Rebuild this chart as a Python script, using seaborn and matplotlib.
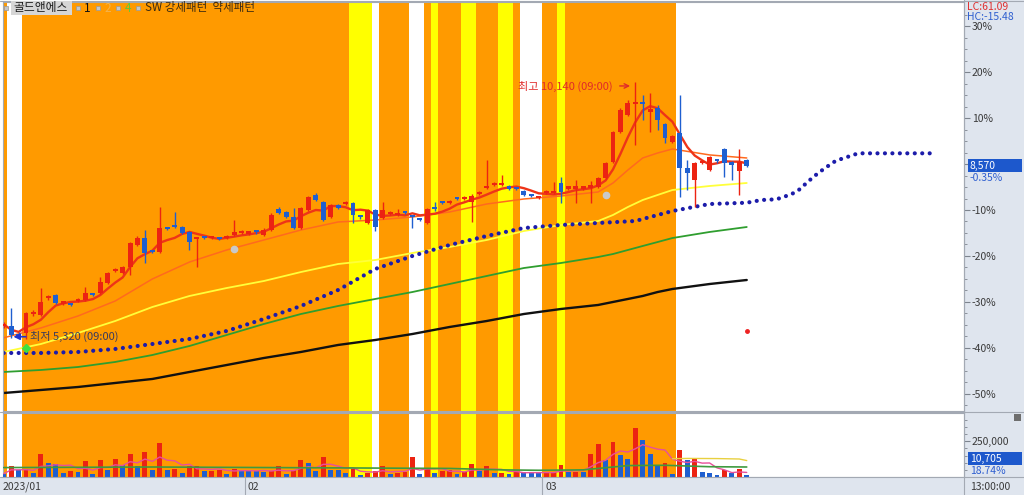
import numpy as np
import pandas as pd
import matplotlib
matplotlib.use("Agg")
import matplotlib.pyplot as plt
from matplotlib.lines import Line2D
from matplotlib.patches import Rectangle
from matplotlib.ticker import FixedLocator, MultipleLocator
import seaborn as sns

# ---- bars (KRW), one per session ----
OPEN = [5570, 5570, 5420, 5440, 5800, 5780, 6090, 6150, 5990, 5980,
        6040, 6060, 6170, 6190, 6380, 6600, 6560, 6670, 7090, 7220,
        6980, 6950, 7400, 7440, 7420, 7330, 7200, 7230, 7210, 7220,
        7220, 7270, 7310, 7300, 7340, 7270, 7370, 7760, 7700, 7610,
        7400, 7740, 8020, 7890, 7610, 7830, 7850, 7870, 7620, 7500,
        7740, 7590, 7670, 7650, 7700, 7630, 7570, 7500, 7770, 7890,
        7870, 7960, 7950, 7890, 8040, 8150, 8210, 8210, 8190, 8150,
        8100, 8020, 7960, 8060, 8060, 8250, 8140, 8140, 8140, 8160,
        8170, 8340, 8640, 9200, 9520, 9720, 9740, 9580, 9650, 9350,
        9010, 9180, 8530, 8300, 8620, 8490, 8660, 8880, 8640, 8470,
        8680]
HIGH = [5640, 5910, 5450, 5830, 5870, 6280, 6150, 6170, 6040, 6000,
        6090, 6300, 6180, 6490, 6580, 6660, 6700, 7140, 7260, 7370,
        7000, 7800, 7420, 7700, 7440, 7350, 7240, 7250, 7260, 7240,
        7280, 7550, 7360, 7350, 7360, 7400, 7680, 7790, 7720, 7780,
        7800, 8000, 8060, 7910, 7850, 7850, 7900, 7890, 7640, 7760,
        7760, 7890, 7720, 7750, 7720, 7650, 7590, 7780, 7890, 7910,
        7920, 7980, 8000, 8030, 8090, 8680, 8260, 8400, 8210, 8170,
        8120, 8040, 8010, 8110, 8260, 8360, 8190, 8300, 8190, 8280,
        8360, 8640, 9220, 9640, 9800, 10140, 9890, 9930, 9700, 9370,
        9140, 9890, 8680, 8640, 8680, 8750, 8700, 8900, 8660, 8880,
        8700]
LOW = [5540, 5350, 5340, 5320, 5760, 5760, 6060, 5980, 5970, 5940,
       6020, 6040, 6130, 6170, 6360, 6580, 6540, 6520, 7060, 6750,
       6930, 6930, 7360, 7400, 7290, 6990, 6670, 7190, 7190, 7170,
       7200, 7250, 7290, 7280, 7300, 7250, 7350, 7660, 7590, 7380,
       7380, 7720, 7910, 7530, 7590, 7760, 7830, 7500, 7580, 7480,
       7350, 7570, 7650, 7630, 7660, 7400, 7530, 7480, 7730, 7850,
       7850, 7920, 7930, 7520, 8020, 8130, 8190, 8190, 8110, 8110,
       8000, 7980, 7940, 8040, 8040, 7870, 8120, 7870, 8120, 7870,
       8150, 8320, 8620, 9180, 9500, 8960, 9420, 9200, 9240, 9000,
       8990, 7980, 8110, 7800, 8600, 8470, 8620, 8360, 8300, 8020,
       8550]
CLOSE = [5600, 5400, 5380, 5810, 5830, 6020, 6110, 6000, 6010, 5960,
         6060, 6190, 6150, 6390, 6560, 6620, 6670, 7120, 7220, 6940,
         6950, 7400, 7380, 7420, 7310, 7140, 7220, 7210, 7230, 7200,
         7240, 7330, 7330, 7320, 7320, 7370, 7650, 7680, 7610, 7400,
         7780, 7980, 7930, 7550, 7830, 7780, 7870, 7650, 7600, 7740,
         7420, 7740, 7690, 7670, 7680, 7610, 7550, 7760, 7750, 7870,
         7890, 7940, 7970, 8000, 8060, 8170, 8230, 8230, 8130, 8130,
         8020, 8000, 7980, 8080, 8080, 8080, 8160, 8160, 8160, 8180,
         8340, 8620, 9200, 9610, 9740, 9740, 9720, 9600, 9420, 9090,
         9120, 8530, 8430, 8620, 8640, 8730, 8650, 8620, 8580, 8640,
         8570]
VOLUME = [23000, 77000, 51000, 55000, 28000, 159000, 98000, 89000, 28000, 42000,
          35000, 112000, 23000, 117000, 47000, 126000, 86000, 159000, 79000, 177000,
          47000, 238000, 47000, 58000, 28000, 75000, 79000, 40000, 44000, 46000,
          23000, 58000, 51000, 42000, 40000, 35000, 42000, 79000, 19000, 47000,
          117000, 98000, 42000, 138000, 51000, 49000, 28000, 58000, 16000, 28000,
          42000, 75000, 19000, 30000, 32000, 140000, 23000, 58000, 28000, 45000,
          48000, 23000, 35000, 93000, 42000, 75000, 28000, 30000, 23000, 35000,
          33000, 31000, 28000, 30000, 32000, 86000, 35000, 37000, 35000, 163000,
          233000, 117000, 245000, 152000, 128000, 345000, 261000, 159000, 82000, 98000,
          23000, 187000, 117000, 124000, 35000, 28000, 16000, 47000, 28000, 58000,
          10705]

# SW pattern state per bar: O = 강세패턴, Y = 약세패턴, W = none (run lengths)
SIGNAL_RUNS = [("O", 1), ("W", 2), ("O", 44), ("Y", 3), ("W", 1), ("O", 4),
               ("W", 2), ("O", 1), ("Y", 1), ("O", 3), ("Y", 2), ("O", 3),
               ("Y", 2), ("O", 1), ("W", 3), ("O", 2), ("Y", 1), ("O", 15),
               ("W", 10)]

# moving averages
LINE_IDX = [0, 5, 10, 15, 20, 25, 30, 35, 40, 45, 50, 55, 60, 65, 70, 75, 80,
            82, 84, 86, 88, 90, 95, 100]
MA_ORANGE = [5350, 5534, 5758, 6038, 6450, 6767, 6992, 7179, 7366, 7516, 7553, 7609,
             7703, 7852, 7946, 8002, 8077, 8245, 8488, 8713, 8806, 8881, 8770, 8713]
MA_YELLOW = [5085, 5234, 5440, 5664, 5926, 6132, 6281, 6412, 6580, 6730, 6805, 6936,
             7048, 7179, 7347, 7460, 7534, 7647, 7796, 7927, 8021, 8114, 8189, 8245]
MA_GREEN = [4711, 4748, 4804, 4898, 5028, 5197, 5402, 5608, 5795, 5945, 6076, 6206,
            6356, 6506, 6655, 6749, 6861, 6917, 6992, 7067, 7141, 7216, 7329, 7422]
MA_BLACK = [4318, 4374, 4430, 4505, 4580, 4711, 4841, 4972, 5085, 5216, 5309, 5421,
            5552, 5664, 5795, 5889, 5964, 6020, 6076, 6132, 6206, 6263, 6356, 6431]

# leading span (dotted blue), runs 25 bars past the last bar
SPAN_IDX = [0, 5, 10, 15, 20, 25, 30, 35, 40, 45, 50, 55, 60, 65, 70, 75, 80, 85, 90,
            95, 100, 102, 104, 106, 107, 108, 109, 110, 111, 112, 113, 115, 125]
SPAN_BLUE = [5066, 5066, 5085, 5141, 5234, 5328, 5477, 5702, 5945, 6244, 6637, 6880,
             7085, 7254, 7403, 7460, 7497, 7534, 7721, 7852, 7876, 7927, 7940, 8034,
             8114, 8239, 8363, 8470, 8568, 8662, 8707, 8800, 8800]

VOL_SLOW_IDX = [0, 20, 40, 60, 67, 72, 78, 84, 89, 95, 100]
VOL_SLOW = [66000, 70000, 65000, 60000, 50000, 47000, 50000, 80000, 82000, 72000, 70000]
VOL_MID_IDX = [90, 92, 96, 99, 100]
VOL_MID = [128000, 130000, 129000, 126000, 115000]

GREY_MARK_IDX, GREY_MARK_PRICE = [31, 81], [7010, 8020]
GREEN_MARK_IDX, GREEN_MARK_PRICE = [3], [5160]
RED_MARK_IDX, RED_MARK_PRICE = [100], [5480]

BASE_PRICE = 8600
PCT_TICKS = [-50, -40, -30, -20, -10, 0, 10, 20, 30]
DATE_START = [0, 33, 73]
DATE_LABELS = ["2023/01", "02", "03"]

# ---- style ----
RED = "#ec2312"
BLUE = "#1f5fd0"
BG = {"O": "#ff9a00", "Y": "#ffff00"}
STRIP = "#dfe5ee"
EDGE = "#a3a9b3"
TXT = "#3a3a3a"

sns.set_theme(style="white")
plt.rcParams["font.family"] = ["Noto Sans CJK KR", "DejaVu Sans"]

W_PX, H_PX = 1024, 495
STEP = 7.43          # px per bar
X0 = -0.1


def fx(px):
    return px / W_PX


def fy(py):
    return 1 - py / H_PX


fig = plt.figure(figsize=(10.24, 4.95), dpi=100)
fig.patch.set_facecolor("white")

# right scale strip and bottom date strip
fig.add_artist(Rectangle((fx(964), 0), 1 - fx(964), 1, transform=fig.transFigure,
                         facecolor=STRIP, edgecolor="none", zorder=-5))
fig.add_artist(Rectangle((0, 0), 1, fy(477), transform=fig.transFigure,
                         facecolor=STRIP, edgecolor="none", zorder=-5))

ax = fig.add_axes([fx(3), fy(411), fx(964) - fx(3), fy(2) - fy(411)])
axv = fig.add_axes([fx(3), fy(477), fx(964) - fx(3), fy(413) - fy(477)])
axd = fig.add_axes([fx(3), 0, fx(964) - fx(3), fy(478)])

xlim = (X0, X0 + 961 / STEP)
for a in (ax, axv, axd):
    a.set_xlim(*xlim)
    a.set_xticks([])
    for s in a.spines.values():
        s.set_color(EDGE)
        s.set_linewidth(0.8)
ax.set_facecolor("white")
axv.set_facecolor("white")
axd.set_facecolor(STRIP)
axd.set_yticks([])
for s in axd.spines.values():
    s.set_visible(False)

# pattern bands
pos = -0.5
for code, n in SIGNAL_RUNS:
    if code in BG:
        for a in (ax, axv):
            a.axvspan(pos, pos + n, color=BG[code], lw=0, zorder=0)
    pos += n

# ---- price panel ----
x = np.arange(len(CLOSE))
o, h, l, c = (np.array(v, dtype=float) for v in (OPEN, HIGH, LOW, CLOSE))
col = np.where(c >= o, RED, BLUE)
ax.vlines(x, l, h, colors=col, lw=1.0, zorder=3)
ax.bar(x, np.maximum(np.abs(c - o), 40), bottom=np.minimum(o, c), width=0.66,
       color=col, lw=0, zorder=3)

sns.lineplot(x=LINE_IDX, y=MA_BLACK, ax=ax, color="#111111", lw=1.7, zorder=2)
sns.lineplot(x=LINE_IDX, y=MA_GREEN, ax=ax, color="#2f9e2f", lw=1.3, zorder=2)
sns.lineplot(x=LINE_IDX, y=MA_YELLOW, ax=ax, color="#ffff3a", lw=1.3, zorder=2)
sns.lineplot(x=LINE_IDX, y=MA_ORANGE, ax=ax, color="#ff6a1e", lw=1.1, zorder=2)
ma5 = pd.Series(CLOSE).rolling(5, min_periods=1).mean()
sns.lineplot(x=x, y=ma5, ax=ax, color="#ee3418", lw=1.7, zorder=2.5)
ax.plot(SPAN_IDX, SPAN_BLUE, color="#1c1caa", lw=3.0, linestyle=(0, (0.01, 1.78)),
        dash_capstyle="round", zorder=2)

ax.plot(GREY_MARK_IDX, GREY_MARK_PRICE, "o", color="#c9c9c9", ms=4.5, zorder=4)
ax.plot(GREEN_MARK_IDX, GREEN_MARK_PRICE, "D", color="#3fe03f", ms=4, zorder=4)
ax.plot(RED_MARK_IDX, RED_MARK_PRICE, "o", color="#ee2222", ms=2.5, zorder=4)

ax.annotate("최고 10,140 (09:00)", xy=(84.3, 10060), xytext=(81.9, 10060),
            ha="right", va="center", fontsize=8, color="#e02a2a",
            arrowprops=dict(arrowstyle="->", color="#e02a2a", lw=1,
                            shrinkA=3, shrinkB=0), zorder=5)
ax.annotate("최저 5,320 (09:00)", xy=(1.3, 5370), xytext=(3.6, 5370),
            ha="left", va="center", fontsize=8, color="#3a3a5e",
            arrowprops=dict(arrowstyle="-|>", color="#2233cc", lw=1.2,
                            mutation_scale=9, shrinkA=1, shrinkB=0), zorder=5)

ax.set_ylim(3981, 11630)
ax.set_xlabel("")
ax.set_ylabel("")
ax.yaxis.tick_right()
ax.set_yticks([BASE_PRICE * (1 + p / 100) for p in PCT_TICKS])
# the 0% label sits under the current-price box, so it is left blank
ax.set_yticklabels([f"{p}%" if p != 0 else "" for p in PCT_TICKS])
ax.yaxis.set_minor_locator(FixedLocator(
    [BASE_PRICE * (1 + p / 1000) for p in range(-550, 326, 25)]))
ax.tick_params(axis="y", which="major", direction="out", length=4, width=0.8,
               color="#7d848e", labelcolor=TXT, labelsize=7.5, pad=1.5)
ax.tick_params(axis="y", which="minor", direction="out", length=2.5, width=0.6,
               color="#7d848e")

# ---- volume panel ----
vol = np.array(VOLUME, dtype=float)
vcol = np.where(np.r_[False, vol[1:] >= vol[:-1]], RED, BLUE)
axv.bar(x, vol, width=0.66, color=vcol, lw=0, zorder=3)
vma5 = pd.Series(VOLUME).rolling(5, min_periods=1).mean()
sns.lineplot(x=x, y=vma5, ax=axv, color="#e8509a", lw=1.0, zorder=4)
sns.lineplot(x=VOL_SLOW_IDX, y=VOL_SLOW, ax=axv, color="#3f9a3f", lw=1.2, zorder=4)
sns.lineplot(x=VOL_MID_IDX, y=VOL_MID, ax=axv, color="#e8d040", lw=1.0, zorder=4)
axv.set_ylim(0, 448000)
axv.set_xlabel("")
axv.set_ylabel("")
axv.yaxis.tick_right()
axv.set_yticks([250000])
axv.set_yticklabels(["250,000"])
axv.yaxis.set_minor_locator(MultipleLocator(50000))
axv.tick_params(axis="y", which="major", direction="out", length=4, width=0.8,
                color="#7d848e", labelcolor=TXT, labelsize=7.5, pad=1.5)
axv.tick_params(axis="y", which="minor", direction="out", length=2.5, width=0.6,
                color="#7d848e")

# ---- date strip ----
for s, lab in zip(DATE_START, DATE_LABELS):
    if s > 0:
        axd.axvline(s - 0.5, color=EDGE, lw=0.8)
    axd.annotate(lab, xy=(s - 0.5, 0.5), xycoords=("data", "axes fraction"),
                 xytext=(2, 0), textcoords="offset points", ha="left", va="center",
                 fontsize=7.5, color=TXT)

# ---- frame lines ----
for yy in (1, 412, 477):
    fig.add_artist(Line2D([0, 1], [fy(yy), fy(yy)], transform=fig.transFigure,
                          color=EDGE, lw=0.8))
fig.add_artist(Line2D([fx(964), fx(964)], [0, 1], transform=fig.transFigure,
                      color=EDGE, lw=0.8))

# ---- header legend ----
def chip(px):
    fig.add_artist(Rectangle((fx(px), fy(10)), 4 / W_PX, 4 / H_PX,
                             transform=fig.transFigure, facecolor="#c6c6c6",
                             edgecolor="#9a9a9a", lw=0.5, zorder=6))


fig.add_artist(Rectangle((fx(11), fy(15)), 61 / W_PX, 14 / H_PX,
                         transform=fig.transFigure, facecolor="#d6d6d6",
                         edgecolor="none", zorder=6))
fig.text(fx(13), fy(8), "골드앤에스", fontsize=8.5, color="#1c1c1c", va="center", zorder=7)
for cx in (4, 76, 96, 116, 136):
    chip(cx)
fig.text(fx(84), fy(8), "1", fontsize=8.5, color="#111111", va="center", zorder=7)
fig.text(fx(104), fy(8), "2", fontsize=8.5, color="#f4b24c", va="center", zorder=7)
fig.text(fx(125), fy(8), "4", fontsize=8.5, color="#62c83a", va="center", zorder=7)
fig.text(fx(145), fy(8), "SW 강세패턴  약세패턴", fontsize=8.3, color="#3b2a12",
         va="center", zorder=7)

# ---- right strip readouts ----
fig.text(fx(967), fy(7), "LC:61.09", fontsize=7.5, color="#e03030", va="center", zorder=7)
fig.text(fx(967), fy(17), "HC:-15.48", fontsize=7.5, color="#2f5fd0", va="center",
         zorder=7)
for top, label, sub, suby in ((159, "8,570", "-0.35%", 178),
                              (452, "10,705", "18.74%", 471)):
    fig.add_artist(Rectangle((fx(968), fy(top + 13)), 54 / W_PX, 13 / H_PX,
                             transform=fig.transFigure, facecolor="#1d58cc",
                             edgecolor="none", zorder=6))
    fig.text(fx(970), fy(top + 6.5), label, fontsize=7.5, color="white", va="center",
             zorder=7)
    fig.text(fx(970), fy(suby), sub, fontsize=7.5, color="#2f5fd0", va="center",
             zorder=7)
fig.add_artist(Rectangle((fx(1014), fy(421)), 7 / W_PX, 7 / H_PX,
                         transform=fig.transFigure, facecolor="#6e6e6e",
                         edgecolor="none", zorder=6))
fig.text(fx(970), fy(487), "13:00:00", fontsize=7.5, color=TXT, va="center", zorder=7)

fig.savefig("out.png", dpi=100, facecolor=fig.get_facecolor())
